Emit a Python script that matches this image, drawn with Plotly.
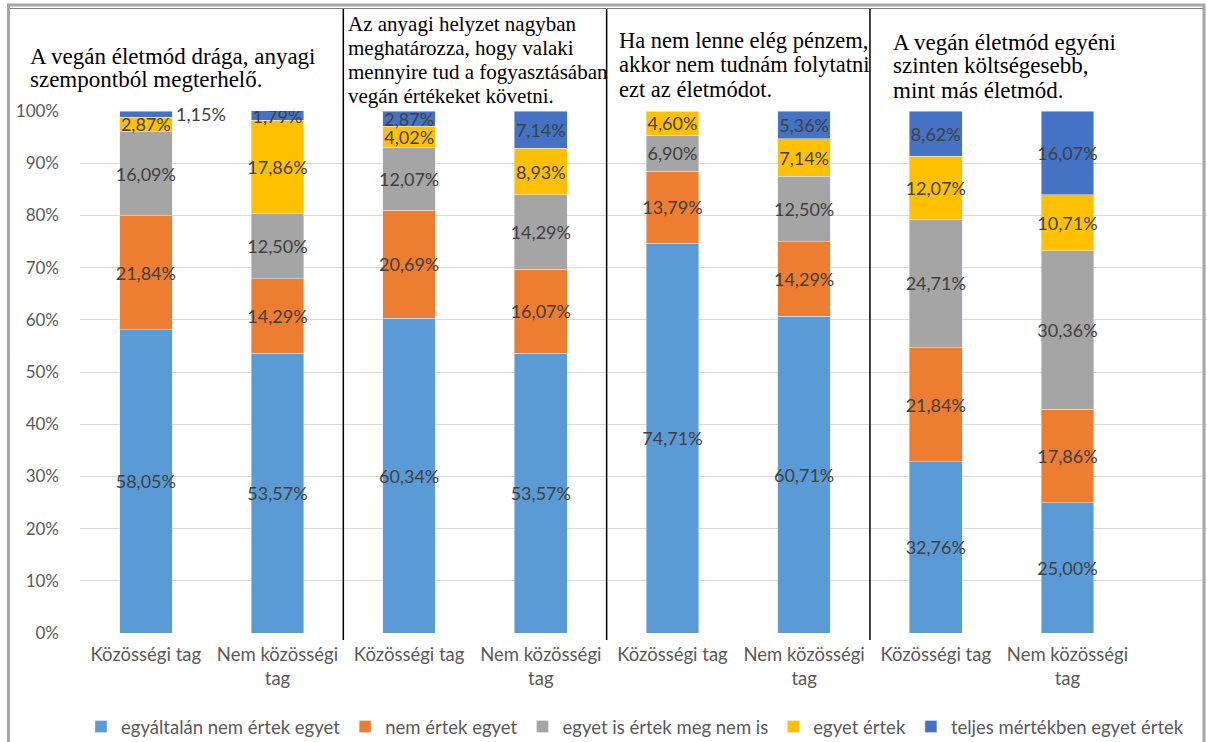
import plotly.graph_objects as go

categories = ["Közösségi tag", "Nem közösségi<br>tag"] * 4
series_names = [
    "egyáltalán nem értek egyet",
    "nem értek egyet",
    "egyet is értek meg nem is",
    "egyet értek",
    "teljes mértékben egyet értek",
]
egyaltalan_nem = [58.05, 53.57, 60.34, 53.57, 74.71, 60.71, 32.76, 25.00]
nem_ertek = [21.84, 14.29, 20.69, 16.07, 13.79, 14.29, 21.84, 17.86]
semleges = [16.09, 12.50, 12.07, 14.29, 6.90, 12.50, 24.71, 30.36]
egyet_ertek = [2.87, 17.86, 4.02, 8.93, 4.60, 7.14, 12.07, 10.71]
teljesen = [1.15, 1.79, 2.87, 7.14, 0.00, 5.36, 8.62, 16.07]
panel_titles = [
    ["A vegán életmód drága, anyagi", "szempontból megterhelő."],
    ["Az anyagi helyzet nagyban", "meghatározza, hogy valaki",
     "mennyire tud a fogyasztásában", "vegán értékeket követni."],
    ["Ha nem lenne elég pénzem,", "akkor nem tudnám folytatni", "ezt az életmódot."],
    ["A vegán életmód egyéni", "szinten költségesebb,", "mint más életmód."],
]
colors = ["#5B9BD5", "#ED7D31", "#A5A5A5", "#FFC000", "#4472C4"]

W, H = 1207, 742
L, T, B = 80, 111, 633


def px(x):
    return (x - L) / (W - L)


def py(y):
    return (B - y) / (B - T)


def fmt(v):
    return f"{v:.2f}%".replace(".", ",") if v else ""


label_font = dict(color="#404040", size=18, family="Lato")

fig = go.Figure()
xs = list(range(len(categories)))
all_series = [egyaltalan_nem, nem_ertek, semleges, egyet_ertek, teljesen]
for name, vals, col in zip(series_names, all_series, colors):
    txt = [fmt(v) for v in vals]
    if vals is teljesen:
        txt[0] = ""  # this one sits outside the bar
    fig.add_trace(go.Bar(
        x=xs, y=vals, name=name, marker_color=col, width=0.4,
        text=txt, textposition="inside", insidetextanchor="middle",
        textangle=0, textfont=label_font, hoverinfo="skip",
    ))

# outside label for the tiny top segment of the first bar
fig.add_annotation(
    x=0.2, y=100 - teljesen[0] / 2, xref="x", yref="y", text=fmt(teljesen[0]),
    showarrow=False, xanchor="left", xshift=2, font=label_font,
)

# panel separators + frame
shapes = []
for xv in [1.5, 3.5, 5.5]:
    shapes.append(dict(type="line", xref="x", yref="paper", x0=xv, x1=xv,
                       y0=py(640), y1=py(9), line=dict(color="black", width=1.5)))
shapes.append(dict(type="rect", xref="paper", yref="paper",
                   x0=px(8.5), x1=px(1204), y0=py(760), y1=py(5),
                   line=dict(color="#A6A6A6", width=3)))
shapes.append(dict(type="line", xref="paper", yref="paper",
                   x0=px(10), x1=px(1203), y0=py(8.5), y1=py(8.5),
                   line=dict(color="#7F7F7F", width=1)))

# panel titles, one line per annotation to control line spacing
title_x = [28, 346, 617, 891]
title_y = [[56, 80], [24, 48, 72, 96], [41, 65, 89], [42, 66, 90]]
title_size = [23, 21, 22.5, 23]
for lines, tx, ys, sz in zip(panel_titles, title_x, title_y, title_size):
    for line, ty in zip(lines, ys):
        fig.add_annotation(
            x=px(tx), y=py(ty), xref="paper", yref="paper", text=line, showarrow=False,
            xanchor="left", yanchor="middle", align="left",
            font=dict(family="Liberation Serif", size=sz, color="black"),
        )

fig.update_layout(
    width=W, height=H, barmode="stack",
    paper_bgcolor="white", plot_bgcolor="white",
    margin=dict(l=L, r=0, t=T, b=H - B, autoexpand=False),
    uniformtext=dict(minsize=18, mode="show"),
    shapes=shapes,
    showlegend=True,
    legend=dict(orientation="h", x=px(635), xanchor="center", y=py(727),
                yanchor="middle", font=dict(family="Lato", size=18.5, color="#595959"),
                itemwidth=30, traceorder="normal"),
    font=dict(family="Lato", color="#595959"),
)
fig.update_xaxes(
    tickvals=xs, ticktext=categories, range=[-0.5, 8.06],
    showgrid=False, zeroline=False, showline=False,
    tickfont=dict(family="Lato", size=18.5, color="#595959"),
    ticklabelstandoff=8,
)
fig.update_yaxes(
    range=[0, 100], dtick=10, ticksuffix="%",
    gridcolor="#D9D9D9", gridwidth=1, zeroline=False, showline=False,
    tickfont=dict(family="Lato", size=17, color="#595959"),
    ticklabelstandoff=20,
)

# the page is photographed edge to edge, so drop the default body margin
fig.write_html("out.html", config={"displayModeBar": False},
               post_script="document.body.style.margin='0';")
